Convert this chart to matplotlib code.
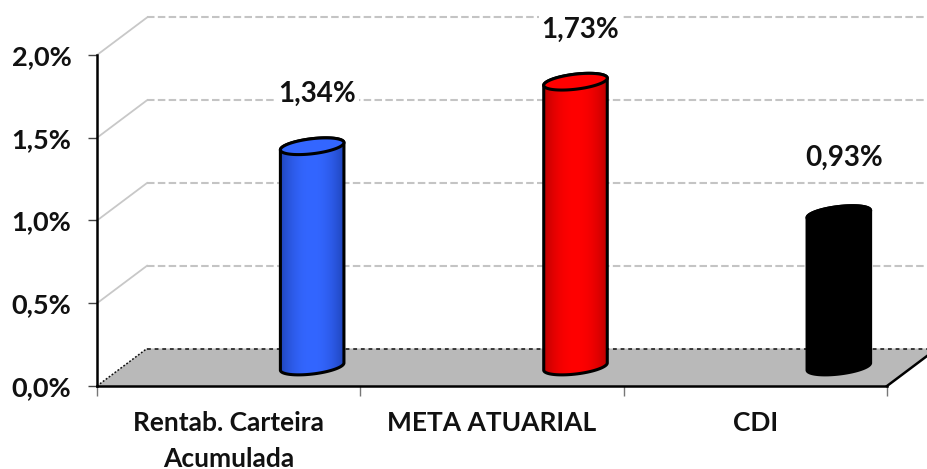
import numpy as np
import matplotlib
matplotlib.use("Agg")
import matplotlib.pyplot as plt
from matplotlib.patches import Polygon

categories = ["Rentab. Carteira\nAcumulada", "META ATUARIAL", "CDI"]
values = [1.34, 1.73, 0.93]
value_labels = ["1,34%", "1,73%", "0,93%"]
ytick_values = [0.0, 0.5, 1.0, 1.5, 2.0]
ytick_labels = ["0,0%", "0,5%", "1,0%", "1,5%", "2,0%"]
bar_mid = ["#3366ff", "#ff0000", "#000000"]
bar_edge = ["#1c3fb0", "#b00000", "#000000"]
label_rise = [52, 52, 56]

plt.rcParams["font.family"] = ["Lato", "DejaVu Sans"]
W, H = 927, 469
L, R, T, B = 97, 887, 55, 386
fig = plt.figure(figsize=(W / 100, H / 100), dpi=100)
ax = fig.add_axes([L / W, 1 - B / H, (R - L) / W, (B - T) / H])
ax.set_xlim(-0.5, 2.5)
ax.set_ylim(0, 2)
px = 3 / (R - L)   # data units per pixel, x
py = 2 / (B - T)   # data units per pixel, y

DX, DY = 50 * px, 37.5 * py     # depth of the 3-D box
x0, x1 = -0.5, 2.5

# floor
ax.add_patch(Polygon([(x0, 0), (x0 + DX, DY), (x1 + DX, DY), (x1, 0)],
                     closed=True, fc="#b9b9b9", ec="none", clip_on=False, zorder=1))
ax.plot([x0 + DX, x1 + DX], [DY, DY], color="#111111", lw=1.1, ls=(0, (2.5, 2.5)),
        clip_on=False, zorder=2)
ax.plot([x0, x0 + DX], [0, DY], color="#111111", lw=1.1, ls=(0, (1.2, 1.2)),
        clip_on=False, zorder=2)
ax.plot([x1, x1 + DX], [0, DY], color="black", lw=1.8, clip_on=False, zorder=2)

# walls and gridlines
for v in ytick_values[1:]:
    ax.plot([x0, x0 + DX], [v, v + DY], color="#c8c8c8", lw=1.3, clip_on=False, zorder=1)
    ax.plot([x0 + DX, x1 + DX], [v + DY, v + DY], color="#c4c4c4", lw=1.5,
            ls=(0, (3.6, 1.6)), clip_on=False, zorder=1)

# cylinders
tilt = np.arctan(0.12)
cx_off = 83.5 * px
base = 18 * py
foot = 19.5 * py
t_up = np.linspace(np.pi, 0, 60)
t_dn = np.linspace(2 * np.pi, np.pi, 60)


def ell(cx, cy, t):
    u = 32 * np.cos(t) * np.cos(tilt) - 7.5 * np.sin(t) * np.sin(tilt)
    w = 32 * np.cos(t) * np.sin(tilt) + 7.5 * np.sin(t) * np.cos(tilt)
    return cx + u * px, cy + w * py


def hex2rgb(h):
    return np.array(matplotlib.colors.to_rgb(h))


for i, val in enumerate(values):
    cx = i + cx_off
    top = val + base
    xu, yu = ell(cx, top, t_up)
    xd, yd = ell(cx, foot, t_dn)
    body = np.vstack([np.column_stack([xu, yu]), np.column_stack([xd, yd])])
    ax.add_patch(Polygon(body, closed=True, fc="none", ec="black", lw=2.2, zorder=4, clip_on=False))
    s = np.linspace(-1, 1, 128)
    f = (1 - np.abs(s) ** 2.2)[None, :, None]
    img = hex2rgb(bar_edge[i])[None, None, :] * (1 - f) + hex2rgb(bar_mid[i])[None, None, :] * f
    im = ax.imshow(img, extent=[cx - 34 * px, cx + 34 * px, foot - 12 * py, top + 12 * py],
                   aspect="auto", zorder=3, interpolation="bilinear", clip_on=True)
    im.set_clip_path(Polygon(body, closed=True, transform=ax.transData))
    xf, yf = ell(cx, top, np.linspace(0, 2 * np.pi, 120))
    ax.fill(xf, yf, fc=bar_mid[i], ec="black", lw=2.2, zorder=5, clip_on=False)
    ax.text(cx + 5 * px, val + base + label_rise[i] * py, value_labels[i], ha="center", va="center",
            fontsize=20, fontweight="bold", color="#111111", zorder=6, clip_on=False,
            bbox=dict(fc="white", ec="none", pad=2.0))

ax.set_xlim(-0.5, 2.5)
ax.set_ylim(0, 2)

# axes and ticks
for side in ("top", "right"):
    ax.spines[side].set_visible(False)
ax.patch.set_alpha(0)
ax.spines["left"].set_linewidth(1.8)
ax.spines["bottom"].set_linewidth(1.8)
ax.spines["left"].set_zorder(7)
ax.spines["bottom"].set_zorder(2.5)
ax.set_yticks(ytick_values)
ax.set_yticklabels(ytick_labels, fontsize=19.5, fontweight="bold", color="#111111")
ax.tick_params(axis="y", length=6.5, width=1, color="#444444", pad=12)
ax.set_xticks([-0.5, 0.5, 1.5, 2.5])
ax.set_xticklabels([])
ax.tick_params(axis="x", which="major", length=7, width=1, color="#777777")
ax.set_xticks([0, 1, 2], minor=True)
ax.set_xticklabels(categories, minor=True, fontsize=19, fontweight="bold", color="#111111",
                   linespacing=1.58, va="top")
ax.tick_params(axis="x", which="minor", length=0, pad=18)

fig.savefig("out.png", dpi=100, facecolor="white")
